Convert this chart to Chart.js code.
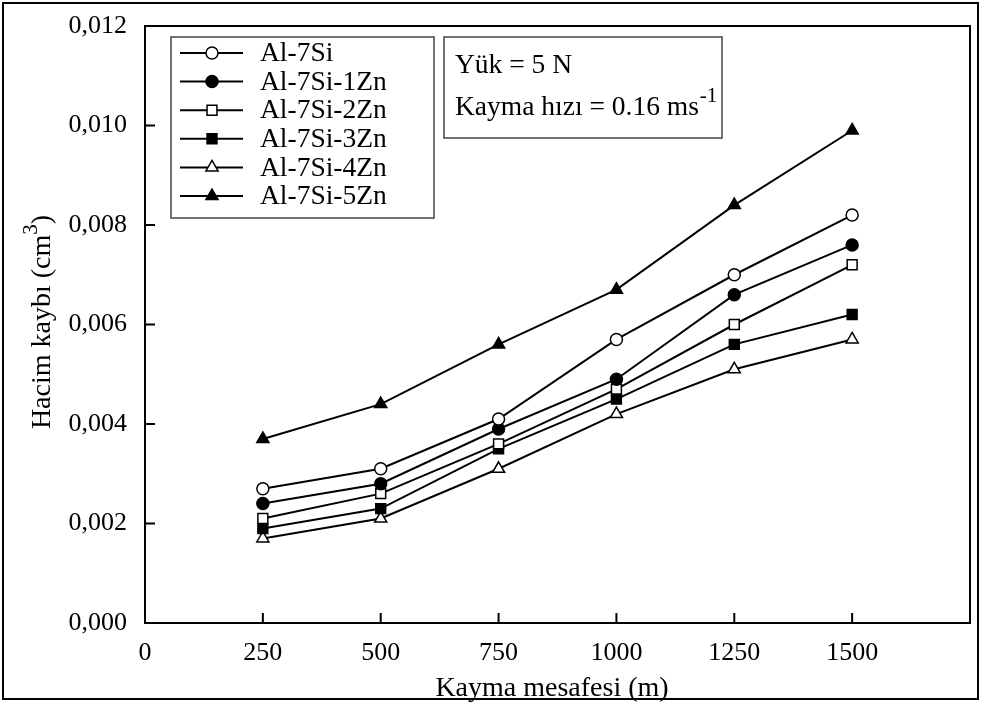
<!DOCTYPE html>
<html>
<head>
<meta charset="utf-8">
<script src="https://cdn.jsdelivr.net/npm/chart.js@4.4.1/dist/chart.umd.min.js"></script>
<style>
  html, body { margin: 0; padding: 0; background: #fff; }
  canvas { display: block; }
</style>
</head>
<body>
<canvas id="myChart" width="982" height="704"></canvas>
<script>
// data
const distances = [250, 500, 750, 1000, 1250, 1500];
const alloy_names = ['Al-7Si', 'Al-7Si-1Zn', 'Al-7Si-2Zn', 'Al-7Si-3Zn', 'Al-7Si-4Zn', 'Al-7Si-5Zn'];
const al7si = [0.0027, 0.0031, 0.0041, 0.0057, 0.0070, 0.0082];
const al7si_1zn = [0.0024, 0.0028, 0.0039, 0.0049, 0.0066, 0.0076];
const al7si_2zn = [0.0021, 0.0026, 0.0036, 0.0047, 0.0060, 0.0072];
const al7si_3zn = [0.0019, 0.0023, 0.0035, 0.0045, 0.0056, 0.0062];
const al7si_4zn = [0.0017, 0.0021, 0.0031, 0.0042, 0.0051, 0.0057];
const al7si_5zn = [0.0037, 0.0044, 0.0056, 0.0067, 0.0084, 0.0099];
const x_ticks = [0, 250, 500, 750, 1000, 1250, 1500];
const y_ticks = [0, 0.002, 0.004, 0.006, 0.008, 0.010, 0.012];

const FONT = "'Liberation Serif', 'Times New Roman', serif";

// marker for each series
const marks = [
  { style: 'circle', fill: '#fff', r: 6 },
  { style: 'circle', fill: '#000', r: 6 },
  { style: 'rect', fill: '#fff', r: 7 },
  { style: 'rect', fill: '#000', r: 7 },
  { style: 'triangle', fill: '#fff', r: 7 },
  { style: 'triangle', fill: '#000', r: 7 }
];
const all_values = [al7si, al7si_1zn, al7si_2zn, al7si_3zn, al7si_4zn, al7si_5zn];

const datasets = all_values.map(function (vals, i) {
  return {
    label: alloy_names[i],
    data: distances.map(function (d, k) { return { x: d, y: vals[k] }; }),
    borderColor: '#000',
    borderWidth: 2,
    tension: 0,
    pointStyle: marks[i].style,
    pointRadius: marks[i].r,
    pointBackgroundColor: marks[i].fill,
    pointBorderColor: '#000',
    pointBorderWidth: 1.5
  };
});

// 안쪽 tick, 테두리, 범례, 글상자, 축 제목
const extras = {
  id: 'extras',
  afterDraw: function (chart) {
    const ctx = chart.ctx;
    const a = chart.chartArea;
    const xs = chart.scales.x;
    const ys = chart.scales.y;
    ctx.save();
    ctx.strokeStyle = '#000';
    ctx.fillStyle = '#000';

    // plot box
    ctx.lineWidth = 2;
    ctx.strokeRect(a.left, a.top, a.right - a.left, a.bottom - a.top);

    // inward ticks
    ctx.beginPath();
    x_ticks.forEach(function (v) {
      if (v === 0) return;
      const px = xs.getPixelForValue(v);
      ctx.moveTo(px, a.bottom);
      ctx.lineTo(px, a.bottom - 10);
    });
    y_ticks.forEach(function (v) {
      const py = ys.getPixelForValue(v);
      ctx.moveTo(a.left, py);
      ctx.lineTo(a.left + 10, py);
    });
    ctx.stroke();

    // outer frame
    ctx.lineWidth = 2;
    ctx.strokeRect(3, 3, 975, 696);

    // legend box
    ctx.lineWidth = 1.5;
    ctx.strokeStyle = '#444';
    ctx.strokeRect(171, 37, 263, 181);
    // annotation box
    ctx.strokeRect(444, 37, 278, 101);

    // legend entries
    ctx.strokeStyle = '#000';
    ctx.font = '27.5px ' + FONT;
    ctx.textBaseline = 'middle';
    ctx.textAlign = 'left';
    alloy_names.forEach(function (name, i) {
      const y = 53 + i * 28.6;
      ctx.lineWidth = 2;
      ctx.beginPath();
      ctx.moveTo(180, y);
      ctx.lineTo(243, y);
      ctx.stroke();
      ctx.fillStyle = marks[i].fill;
      ctx.lineWidth = 1.5;
      Chart.helpers.drawPoint(ctx, { pointStyle: marks[i].style, radius: marks[i].r, borderWidth: 1.5, rotation: 0 }, 212, y);
      ctx.fillStyle = '#000';
      ctx.fillText(name, 260, y + 1);
    });

    // annotation text
    ctx.fillText('Yük = 5 N', 455, 66);
    const line2 = 'Kayma hızı = 0.16 ms';
    ctx.fillText(line2, 455, 108);
    const w2 = ctx.measureText(line2).width;
    ctx.font = '21px ' + FONT;
    ctx.fillText('-1', 455 + w2 + 1, 96);

    // x title
    ctx.font = '28px ' + FONT;
    ctx.textAlign = 'center';
    ctx.textBaseline = 'alphabetic';
    ctx.fillText('Kayma mesafesi (m)', 552, 696);

    // y title with superscript
    ctx.translate(43, 322);
    ctx.rotate(-Math.PI / 2);
    ctx.textAlign = 'left';
    ctx.textBaseline = 'middle';
    const p1 = 'Hacim kaybı (cm';
    const p3 = ')';
    ctx.font = '28px ' + FONT;
    const w1 = ctx.measureText(p1).width;
    const w3 = ctx.measureText(p3).width;
    ctx.font = '21px ' + FONT;
    const wsup = ctx.measureText('3').width;
    const total = w1 + wsup + w3;
    const x0 = -total / 2;
    ctx.font = '28px ' + FONT;
    ctx.fillText(p1, x0, 0);
    ctx.font = '21px ' + FONT;
    ctx.fillText('3', x0 + w1, -12);
    ctx.font = '28px ' + FONT;
    ctx.fillText(p3, x0 + w1 + wsup, 0);
    ctx.restore();
  }
};

const config = {
  type: 'line',
  data: { datasets: datasets },
  options: {
    responsive: false,
    animation: false,
    devicePixelRatio: 1,
    layout: { padding: { top: 26, right: 12, left: 0, bottom: 0 } },
    plugins: {
      legend: { display: false },
      tooltip: { enabled: false },
      title: { display: false }
    },
    scales: {
      x: {
        type: 'linear',
        min: 0,
        max: 1750,
        afterFit: function (s) { s.height = 81; s.paddingLeft = 0; s.paddingRight = 0; },
        afterBuildTicks: function (s) { s.ticks = x_ticks.map(function (v) { return { value: v }; }); },
        ticks: {
          color: '#000',
          padding: 15,
          maxRotation: 0,
          font: { family: FONT, size: 26 },
          callback: function (v) { return String(v); }
        },
        grid: { display: true, drawOnChartArea: false, drawTicks: false },
        border: { display: true, color: '#000', width: 2 }
      },
      y: {
        type: 'linear',
        min: 0,
        max: 0.012,
        afterFit: function (s) { s.width = 145; s.paddingTop = 0; s.paddingBottom = 0; },
        afterBuildTicks: function (s) { s.ticks = y_ticks.map(function (v) { return { value: v }; }); },
        ticks: {
          color: '#000',
          padding: 18,
          font: { family: FONT, size: 26 },
          callback: function (v) { return v.toFixed(3).replace('.', ','); }
        },
        grid: { display: true, drawOnChartArea: false, drawTicks: false },
        border: { display: true, color: '#000', width: 2 }
      }
    }
  },
  plugins: [extras]
};

const myChart = new Chart(document.getElementById('myChart'), config);
</script>
</body>
</html>
